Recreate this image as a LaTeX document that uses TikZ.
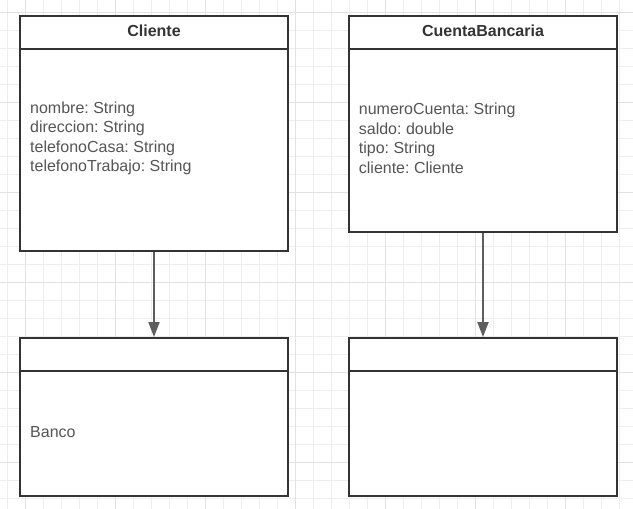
\documentclass[tikz,border=0pt]{standalone}
\usepackage{fontspec}
\setmainfont{Liberation Sans}
\usetikzlibrary{arrows.meta}
\definecolor{boxc}{HTML}{333333}
\definecolor{txtc}{HTML}{555555}
\definecolor{titc}{HTML}{333333}
\definecolor{arrc}{HTML}{5E5E5E}
\definecolor{gridminor}{HTML}{EEEEEE}
\definecolor{gridmajor}{HTML}{E2E2E2}
\frenchspacing
\begin{document}
\begin{tikzpicture}[x=1pt,y=-1pt,
  umlbox/.style={draw=boxc, line width=2pt, fill=white, inner sep=0pt, anchor=north west, minimum width=268pt},
  divider/.style={draw=boxc, line width=2pt},
  titletext/.style={font=\fontsize{16}{19}\selectfont\bfseries, text=titc, inner sep=0pt},
  attrtext/.style={font=\fontsize{16}{19.5}\selectfont, text=txtc, inner sep=0pt, align=left, anchor=west},
  assoc/.style={draw=arrc, line width=2pt, -{Triangle[length=15pt,width=11pt]}},
  minorgrid/.style={draw=gridminor, line width=0.9pt},
  majorgrid/.style={draw=gridmajor, line width=0.9pt}]
\useasboundingbox (0,0) rectangle (633,509);
\fill[white] (0,0) rectangle (633,509);
% grid
\foreach \i in {0,...,35} {
  \pgfmathsetmacro{\xx}{7.3+18*\i}
  \draw[minorgrid] (\xx,0) -- (\xx,509);
}
\foreach \i in {0,...,28} {
  \pgfmathsetmacro{\yy}{12.7+18*\i}
  \draw[minorgrid] (0,\yy) -- (633,\yy);
}
\foreach \i in {0,...,6} {
  \pgfmathsetmacro{\xx}{25.3+90*\i}
  \draw[majorgrid] (\xx,0) -- (\xx,509);
}
\foreach \i in {0,...,5} {
  \pgfmathsetmacro{\yy}{12.7+90*\i}
  \draw[majorgrid] (0,\yy) -- (633,\yy);
}
% boxes
\node[umlbox, minimum height=235pt] (cliente) at (19,15) {};
\node[umlbox, minimum height=216pt] (cuenta) at (348,15) {};
\node[umlbox, minimum height=158pt] (banco) at (19,337) {};
\node[umlbox, minimum height=158pt] (otra) at (348,337) {};
% dividers
\draw[divider] ([yshift=-34pt]cliente.north west) -- ([yshift=-34pt]cliente.north east);
\draw[divider] ([yshift=-34pt]cuenta.north west) -- ([yshift=-34pt]cuenta.north east);
\draw[divider] ([yshift=-34pt]banco.north west) -- ([yshift=-34pt]banco.north east);
\draw[divider] ([yshift=-34pt]otra.north west) -- ([yshift=-34pt]otra.north east);
% titles
\node[titletext] (clienteT) at ([yshift=-15.5pt]cliente.north) {Cliente};
\node[titletext] (cuentaT) at ([yshift=-15.5pt]cuenta.north) {CuentaBancaria};
% attributes
\node[attrtext] (clienteA) at (30,138.5) {nombre: String\\direccion: String\\telefonoCasa: String\\telefonoTrabajo: String};
\node[attrtext] (cuentaA) at (358.7,138.5) {numeroCuenta: String\\saldo: double\\tipo: String\\cliente: Cliente};
\node[attrtext] (bancoA) at (30,432) {Banco};
% connectors
\draw[assoc] (cliente.south) -- (banco.north);
\draw[assoc] (cuenta.south) -- (otra.north);
\end{tikzpicture}
\end{document}
